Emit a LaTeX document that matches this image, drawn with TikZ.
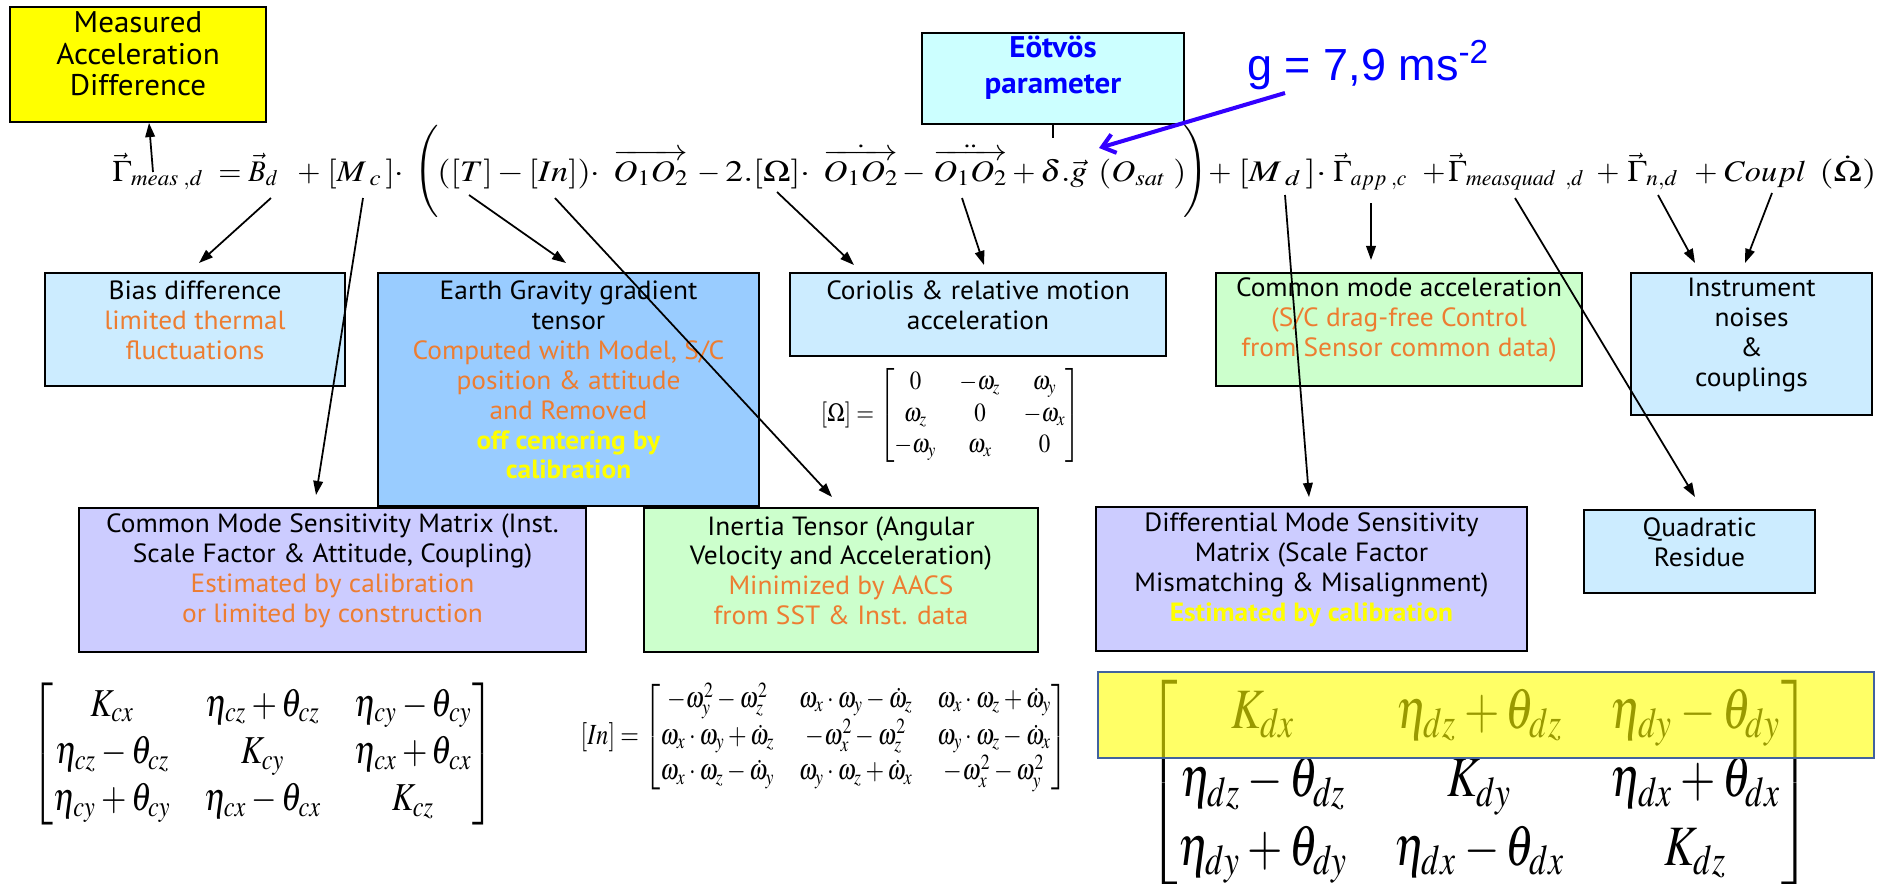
\documentclass[tikz,border=0pt]{standalone}
\usepackage{amsmath}
\usepackage{mathptmx}
\usepackage[no-math]{fontspec}
\newfontfamily\csf[FakeStretch=1.04]{PT Sans}
\newfontfamily\arialf{Liberation Sans}
\usetikzlibrary{arrows.meta,fit}
\definecolor{lblue}{HTML}{CCECFF}
\definecolor{mblue}{HTML}{99CCFF}
\definecolor{lgreen}{HTML}{CCFFCC}
\definecolor{lav}{HTML}{CCCCFF}
\definecolor{lcyan}{HTML}{CCFFFF}
\definecolor{orng}{HTML}{ED7D31}
\definecolor{ylw}{HTML}{FFFF00}
\definecolor{gblue}{HTML}{0000FF}
\definecolor{parrow}{HTML}{3300FF}
\definecolor{hlborder}{HTML}{41629E}
\newcommand{\eqw}[2]{\resizebox{#1}{\height}{$#2$}}
\begin{document}
\begin{tikzpicture}[x=0.02cm,y=-0.02cm,
  box/.style={draw=black, line width=1.5pt, inner sep=0pt, align=center,
    font=\csf\fontsize{15}{17}\selectfont, text=black},
  arr/.style={-{Triangle[length=8pt,width=5.5pt]}, line width=1pt},
  eqn/.style={anchor=base west, inner sep=0pt, font=\fontsize{17}{20}\selectfont},
  par/.style={inner sep=0pt, font=\fontsize{17.5}{20}\selectfont},
  mat/.style={inner sep=0pt}]
\useasboundingbox (0,0) rectangle (1892,883);

% ---------- boxes ----------
\node[box, fill=ylw, fit={(10,7) (266,122)}, font=\csf\fontsize{17}{18}\selectfont] (meas)
  {Measured\\Acceleration\\Difference};
\node[box, fill=lcyan, fit={(922,33) (1184,124)}, text=gblue,
  font=\csf\bfseries\fontsize{17}{20}\selectfont] (eot) {Eötvös\\parameter};
\node[box, fill=lblue, fit={(45,273) (345,386)}] (bias)
  {Bias difference\\\textcolor{orng}{limited thermal}\\\textcolor{orng}{fluctuations}};
\node[box, fill=mblue, fit={(378,273) (759,506)}] (earth)
  {Earth Gravity gradient\\tensor\\\textcolor{orng}{Computed with Model, S/C}\\
   \textcolor{orng}{position \& attitude}\\\textcolor{orng}{and Removed}\\
   \textcolor{ylw}{\bfseries off centering by}\\\textcolor{ylw}{\bfseries calibration}};
\node[box, fill=lblue, fit={(790,273) (1166,356)}] (cor)
  {Coriolis \& relative motion\\acceleration};
\node[box, fill=lgreen, fit={(1216,273) (1582,386)}] (cmacc)
  {Common mode acceleration\\\textcolor{orng}{(S/C drag-free Control}\\\textcolor{orng}{from Sensor common data)}};
\node[box, fill=lblue, fit={(1631,273) (1872,415)}] (instr)
  {Instrument\\noises\\\&\\couplings};
\node[box, fill=lav, fit={(79,508) (586,652)}] (cms)
  {Common Mode Sensitivity Matrix (Inst.\\Scale Factor \& Attitude, Coupling)\\
   \textcolor{orng}{Estimated by calibration}\\\textcolor{orng}{or limited by construction}};
\node[box, fill=lgreen, fit={(644,508) (1038,652)}] (inert)
  {Inertia Tensor (Angular\\Velocity and Acceleration)\\
   \textcolor{orng}{Minimized by AACS}\\\textcolor{orng}{from SST \& Inst. data}};
\node[box, fill=lav, fit={(1096,507) (1527,651)}] (dms)
  {Differential Mode Sensitivity\\Matrix (Scale Factor\\Mismatching \& Misalignment)\\
   \textcolor{ylw}{\bfseries Estimated by calibration}};
\node[box, fill=lblue, fit={(1584,510) (1815,593)}] (quad) {Quadratic\\Residue};

% ---------- g value ----------
\node[anchor=base west, inner sep=0pt, text=gblue,
  font=\arialf\fontsize{25.6}{30}\selectfont] (gval) at (1247,80) {g = 7,9 ms\textsuperscript{-2}};

% ---------- main equation ----------
\node[eqn] (a1) at (112,181) {\eqw{51.8pt}{\vec{\Gamma}_{meas\;,d}}};
\node[eqn] (a2) at (218,181) {$=$};
\node[eqn] (a3) at (248,181) {\eqw{17.1pt}{\vec{B}_{d}}};
\node[eqn] (a4) at (297,181) {$+$};
\node[eqn] (a5) at (327,181) {\eqw{43.8pt}{[M_{\;c}\,]\cdot}};
\node[par] (lp) at (427,171) {$\Biggl($};
\node[eqn] (c1) at (437,181) {\eqw{92.8pt}{([T]-[In])\cdot}};
\node[eqn] (c2) at (613,181) {\eqw{42.7pt}{\overrightarrow{O_1O_2}}};
\node[eqn] (c3) at (697,181) {$-$};
\node[eqn] (c3b) at (725,181) {\eqw{48.4pt}{2.[\Omega]\cdot}};
\node[eqn] (c4) at (823,181) {\eqw{42.7pt}{\dot{\overrightarrow{O_1O_2}}}};
\node[eqn] (c5) at (902,181) {$-$};
\node[eqn] (c6) at (933,181) {\eqw{42.1pt}{\ddot{\overrightarrow{O_1O_2}}}};
\node[eqn] (c7) at (1012,181) {$+$};
\node[eqn] (c8) at (1040,181) {\eqw{26.7pt}{\delta.\vec{g}}};
\node[eqn] (c8b) at (1098,181) {\eqw{50.1pt}{(O_{sat}\;)}};
\node[par] (rp) at (1196,171) {$\Biggr)$};
\node[eqn] (e1) at (1208,181) {$+$};
\node[eqn] (e2) at (1238,181) {\eqw{50.1pt}{[M_{\;d}\,]\cdot}};
\node[eqn] (e3) at (1333,181) {\eqw{42.1pt}{\vec{\Gamma}_{app\;,c}}};
\node[eqn] (e4) at (1422,181) {$+$};
\node[eqn] (e5) at (1448,181) {\eqw{77.4pt}{\vec{\Gamma}_{measquad\;\;,d}}};
\node[eqn] (e6) at (1596,181) {$+$};
\node[eqn] (e7) at (1627,181) {\eqw{29pt}{\vec{\Gamma}_{n,d}}};
\node[eqn] (e8) at (1694,181) {$+$};
\node[eqn] (e9) at (1724,181) {\eqw{46.7pt}{Coupl}};
\node[eqn] (e10) at (1819,181) {\eqw{32.4pt}{(\dot{\Omega})}};

% ---------- matrices ----------
\node[mat] (omat) at (951,415) {\resizebox*{148pt}{53.5pt}{$[\Omega]=\begin{bmatrix}0&-\omega_z&\omega_y\\ \omega_z&0&-\omega_x\\ -\omega_y&\omega_x&0\end{bmatrix}$}};
\node[mat] (cmat) at (263,754) {\resizebox*{263pt}{81pt}{$\begin{bmatrix} K_{cx} & \eta_{cz}+\theta_{cz} & \eta_{cy}-\theta_{cy}\\ \eta_{cz}-\theta_{cz} & K_{cy} & \eta_{cx}+\theta_{cx}\\ \eta_{cy}+\theta_{cy} & \eta_{cx}-\theta_{cx} & K_{cz}\end{bmatrix}$}};
\node[mat] (imat) at (824,737) {\resizebox*{277pt}{62pt}{$[In]=\begin{bmatrix}-\omega_y^2-\omega_z^2 & \omega_x\cdot\omega_y-\dot\omega_z & \omega_x\cdot\omega_z+\dot\omega_y\\ \omega_x\cdot\omega_y+\dot\omega_z & -\omega_x^2-\omega_z^2 & \omega_y\cdot\omega_z-\dot\omega_x\\ \omega_x\cdot\omega_z-\dot\omega_y & \omega_y\cdot\omega_z+\dot\omega_x & -\omega_x^2-\omega_y^2\end{bmatrix}$}};
\node[mat] (dmat) at (1480,783) {\resizebox*{378pt}{117pt}{$\begin{bmatrix} K_{dx} & \eta_{dz}+\theta_{dz} & \eta_{dy}-\theta_{dy}\\ \eta_{dz}-\theta_{dz} & K_{dy} & \eta_{dx}+\theta_{dx}\\ \eta_{dy}+\theta_{dy} & \eta_{dx}-\theta_{dx} & K_{dz}\end{bmatrix}$}};
\node[fill=ylw, fill opacity=0.6, draw=hlborder, draw opacity=1, line width=1pt,
  inner sep=0pt, fit={(1098,672) (1874,758)}] (hl) {};

% ---------- connector coordinates ----------
\coordinate (sMeas) at (153,172);  \coordinate (tMeas) at (149,123);
\coordinate (sB) at (271,198);     \coordinate (tB) at (199,263);
\coordinate (sMc) at (363,198);    \coordinate (tMc) at (316,495);
\coordinate (sT) at (469,195);     \coordinate (tT) at (566,263);
\coordinate (sIn) at (555,198);    \coordinate (tIn) at (832,497);
\coordinate (sOm) at (777,192);    \coordinate (tOm) at (854,265);
\coordinate (sDd) at (962,198);    \coordinate (tDd) at (984,265);
\coordinate (sMd) at (1285,195);   \coordinate (tMd) at (1309,497);
\coordinate (sApp) at (1371,203);  \coordinate (tApp) at (1371,260);
\coordinate (sQ) at (1515,198);    \coordinate (tQ) at (1695,497);
\coordinate (sN) at (1658,195);    \coordinate (tN) at (1695,263);
\coordinate (sCp) at (1772,193);   \coordinate (tCp) at (1745,263);
\coordinate (sG) at (1285,93);     \coordinate (tG) at (1099,148);
\coordinate (tEot) at (1053,138);

% ---------- connectors ----------
\draw[arr] (sMeas) -- (tMeas);
\draw[arr] (sB) -- (tB);
\draw[arr] (sMc) -- (tMc);
\draw[arr] (sT) -- (tT);
\draw[arr] (sIn) -- (tIn);
\draw[arr] (sOm) -- (tOm);
\draw[arr] (sDd) -- (tDd);
\draw[arr] (sMd) -- (tMd);
\draw[arr] (sApp) -- (tApp);
\draw[arr] (sQ) -- (tQ);
\draw[arr] (sN) -- (tN);
\draw[arr] (sCp) -- (tCp);
\draw[line width=1pt] (eot.south) -- (tEot);
\draw[parrow, line width=2.3pt, -{Straight Barb[length=7pt,width=11pt]}] (sG) -- (tG);
\end{tikzpicture}
\end{document}
